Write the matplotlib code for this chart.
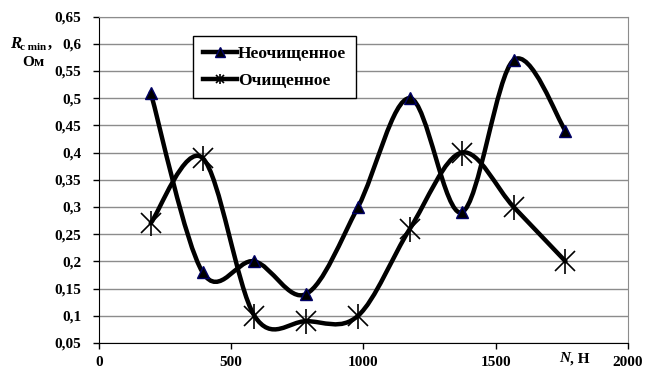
import matplotlib
matplotlib.use("Agg")
import matplotlib.pyplot as plt
from matplotlib.path import Path
from matplotlib.patches import PathPatch
from matplotlib.lines import Line2D
from matplotlib.legend_handler import HandlerTuple
import matplotlib.transforms as mtransforms
import numpy as np

# load N, H  (20..180 kg * 9.8)
load_n = [196, 392, 588, 784, 980, 1176, 1372, 1568, 1764]
raw_r = [0.51, 0.18, 0.20, 0.14, 0.30, 0.50, 0.29, 0.57, 0.44]     # Неочищенное
clean_r = [0.27, 0.39, 0.10, 0.09, 0.10, 0.26, 0.40, 0.30, 0.20]   # Очищенное
labels = ["Неочищенное", "Очищенное"]
yticks = [0.05, 0.1, 0.15, 0.2, 0.25, 0.3, 0.35, 0.4, 0.45, 0.5, 0.55, 0.6, 0.65]
xticks = [0, 500, 1000, 1500, 2000]

plt.rcParams['font.family'] = ['Liberation Serif', 'DejaVu Serif']
plt.rcParams['font.weight'] = 'bold'


def smooth_path(xs, ys):
    # excel-like smoothed line: cubic bezier, control points from neighbours / 6
    pts = np.column_stack([xs, ys]).astype(float)
    n = len(pts)
    verts = [pts[0]]
    codes = [Path.MOVETO]
    for i in range(n - 1):
        p0 = pts[i - 1] if i > 0 else pts[i]
        p1 = pts[i]
        p2 = pts[i + 1]
        p3 = pts[i + 2] if i + 2 < n else pts[i + 1]
        c1 = p1 + (p2 - p0) / 6.0
        c2 = p2 - (p3 - p1) / 6.0
        verts += [c1, c2, p2]
        codes += [Path.CURVE4] * 3
    return Path(verts, codes)


fig = plt.figure(figsize=(6.46, 3.76), dpi=100)
ax = fig.add_axes([0.153, 0.088, 0.819, 0.868])

ax.set_xlim(0, 2000)
ax.set_ylim(0.05, 0.65)
ax.set_yticks(yticks)
ax.set_xticks(xticks)
ax.set_yticklabels([('%g' % v).replace('.', ',') for v in yticks])
ax.set_xticklabels([str(v) for v in xticks])
ax.yaxis.grid(True, color='#8c8c8c', lw=1.0)
ax.set_axisbelow(True)
ax.tick_params(axis='both', direction='out', length=4.5, width=1.0, labelsize=11)
ax.tick_params(axis='y', pad=8)
ax.tick_params(axis='x', pad=5)
for lab in ax.get_xticklabels() + ax.get_yticklabels():
    lab.set_fontweight('bold')
ax.spines['left'].set_color('black')
ax.spines['bottom'].set_color('black')
ax.spines['top'].set_color('#8c8c8c')
ax.spines['right'].set_color('#8c8c8c')

# lines
for ys in (raw_r, clean_r):
    ax.add_patch(PathPatch(smooth_path(load_n, ys), fill=False, lw=3.2,
                           ec='black', capstyle='round', joinstyle='round', zorder=3))

ax.plot(load_n, raw_r, ls='none', marker='^', ms=9, mfc='black', mec='#000066', mew=1.0, zorder=4)
ax.plot(load_n, clean_r, ls='none', marker='x', ms=15, mec='black', mew=1.2, zorder=4)
ax.plot(load_n, clean_r, ls='none', marker='|', ms=18, mec='black', mew=1.2, zorder=4)

# legend
h1 = Line2D([], [], color='black', lw=3.2, marker='^', ms=7, mfc='black', mec='#000066')
h2a = Line2D([], [], color='black', lw=3.2, marker='x', ms=6, mec='black', mew=1.2)
h2b = Line2D([], [], color='none', lw=0, marker='|', ms=7, mec='black', mew=1.2)
leg = ax.legend([h1, (h2a, h2b)], labels,
                handler_map={tuple: HandlerTuple(ndivide=1, pad=0)},
                loc='upper left', bbox_to_anchor=(0.178, 0.939), borderaxespad=0,
                frameon=True, fancybox=False, edgecolor='black', framealpha=1,
                prop={'family': 'Liberation Serif', 'size': 12.5, 'weight': 'bold'},
                handlelength=2.0, handletextpad=0.05, labelspacing=0.6, borderpad=0.55)
leg.get_frame().set_linewidth(1.0)

# axis titles
fig.text(10 / 646, 1 - 44 / 376, 'R', fontsize=12, fontweight='bold', style='italic',
         ha='left', va='center')
fig.text(20 / 646, 1 - 47 / 376, 'c min', fontsize=8, fontweight='bold',
         ha='left', va='center')
fig.text(48 / 646, 1 - 44 / 376, ',', fontsize=12, fontweight='bold',
         ha='left', va='center')
fig.text(33 / 646, 1 - 63 / 376, 'Ом', fontsize=11, fontweight='bold',
         ha='center', va='center')

trans = mtransforms.blended_transform_factory(ax.transData, fig.transFigure)
ax.text(1780, 1 - 359 / 376, 'N', transform=trans, fontsize=11, fontweight='bold',
        style='italic', ha='right', va='center')
ax.text(1782, 1 - 359 / 376, ', Н', transform=trans, fontsize=11, fontweight='bold',
        ha='left', va='center')

fig.savefig('out.png', dpi=100)
